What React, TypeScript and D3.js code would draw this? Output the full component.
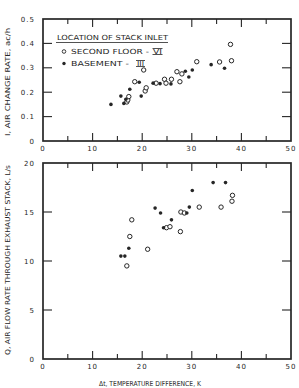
import React from 'react';
import * as d3 from 'd3';

// top panel: air change rate (ac/h) vs temperature difference (K)
const rateSecondFloor: [number, number][] = [
  [16.9, 0.16], [17.1, 0.168], [17.3, 0.182], [18.5, 0.243], [20.3, 0.291], [20.6, 0.205],
  [20.8, 0.218], [22.8, 0.237], [24.5, 0.253], [24.8, 0.237], [25.9, 0.253], [27.0, 0.284],
  [27.6, 0.243], [28.0, 0.275], [31.0, 0.325], [35.6, 0.324], [37.8, 0.396], [38.0, 0.329],
];
const rateBasement: [number, number][] = [
  [13.7, 0.15], [15.7, 0.184], [16.3, 0.154], [16.7, 0.171], [17.5, 0.212], [19.4, 0.241],
  [19.8, 0.184], [22.2, 0.237], [23.6, 0.235], [25.8, 0.234], [28.7, 0.286], [29.4, 0.262],
  [30.1, 0.291], [33.9, 0.313], [36.6, 0.298],
];

// bottom panel: air flow rate through exhaust stack (L/s)
const flowSecondFloor: [number, number][] = [
  [16.9, 9.5], [17.5, 12.5], [17.9, 14.2], [21.1, 11.2], [24.9, 13.4], [25.6, 13.5],
  [27.7, 13.0], [27.8, 15.0], [28.5, 14.9], [31.5, 15.5], [35.9, 15.5], [38.1, 16.1], [38.2, 16.7],
];
const flowBasement: [number, number][] = [
  [15.7, 10.5], [16.5, 10.5], [17.3, 11.3], [22.6, 15.4], [23.7, 14.9], [24.3, 13.4],
  [25.9, 14.2], [29.0, 14.9], [29.5, 15.5], [30.1, 17.2], [34.3, 18.0], [36.8, 18.0],
];

const xTicks = [0, 10, 20, 30, 40, 50];
const xMinor = [5, 10, 15, 20, 25, 30, 35, 40, 45];
const rateTicks = [0, 0.1, 0.2, 0.3, 0.4, 0.5];
const flowTicks = [0, 5, 10, 15, 20];

const ink = '#262626';
const font = 'DejaVu Sans, sans-serif';

const left = 43;
const right = 291;

const x = d3.scaleLinear().domain([0, 50]).range([left, right]);

interface PanelProps {
  y: d3.ScaleLinear<number, number>;
  yTicks: number[];
  fmt: (v: number) => string;
  open: [number, number][];
  filled: [number, number][];
}

const Panel: React.FC<PanelProps> = ({ y, yTicks, fmt, open, filled }) => {
  const [bottom, top] = y.range();
  const yMin = yTicks[0];
  const yMax = yTicks[yTicks.length - 1];
  return (
    <g>
      <rect x={left} y={top} width={right - left} height={bottom - top}
        fill="none" stroke={ink} strokeWidth={1.7} />
      {xMinor.map(v => {
        const len = v % 10 === 0 ? 8 : 5;
        return (
          <g key={v}>
            <line x1={x(v)} x2={x(v)} y1={bottom} y2={bottom - len} stroke={ink} strokeWidth={1.1} />
            <line x1={x(v)} x2={x(v)} y1={top} y2={top + len} stroke={ink} strokeWidth={1.1} />
          </g>
        );
      })}
      {yTicks.filter(v => v !== yMin && v !== yMax).map(v => (
        <g key={v}>
          <line x1={left} x2={left + 9} y1={y(v)} y2={y(v)} stroke={ink} strokeWidth={1.1} />
          <line x1={right} x2={right - 9} y1={y(v)} y2={y(v)} stroke={ink} strokeWidth={1.1} />
        </g>
      ))}
      {yTicks.map(v => (
        <text key={v} x={left - 8} y={y(v) + 2.5} textAnchor="end" fontSize={7}
          fontFamily={font} fill={ink} letterSpacing={1}>{fmt(v)}</text>
      ))}
      {xTicks.map(v => (
        <text key={v} x={x(v)} y={bottom + 10} textAnchor="middle" fontSize={7}
          fontFamily={font} fill={ink} letterSpacing={1}>{v}</text>
      ))}
      {open.map((d, i) => (
        <circle key={'o' + i} cx={x(d[0])} cy={y(d[1])} r={2.2} fill="white" stroke={ink} strokeWidth={1} />
      ))}
      {filled.map((d, i) => (
        <circle key={'f' + i} cx={x(d[0])} cy={y(d[1])} r={1.8} fill={ink} />
      ))}
    </g>
  );
};

export default function App() {
  const yRate = d3.scaleLinear().domain([0, 0.5]).range([141, 19]);
  const yFlow = d3.scaleLinear().domain([0, 20]).range([359, 163]);

  return (
    <svg width={299} height={388} style={{ position: 'absolute', left: 0, top: 0, background: 'white' }}>
      <Panel y={yRate} yTicks={rateTicks} fmt={v => (v === 0 ? '0' : v.toFixed(1))}
        open={rateSecondFloor} filled={rateBasement} />
      <Panel y={yFlow} yTicks={flowTicks} fmt={v => String(v)}
        open={flowSecondFloor} filled={flowBasement} />

      {/* legend */}
      <text x={57} y={39.5} fontSize={7} fontFamily={font} fill={ink} textLength={111}
        lengthAdjust="spacingAndGlyphs">LOCATION OF STACK INLET</text>
      <line x1={56} x2={168} y1={42.5} y2={42.5} stroke={ink} strokeWidth={0.8} />
      <circle cx={64} cy={51.5} r={1.8} fill="white" stroke={ink} strokeWidth={0.9} />
      <text x={71} y={54} fontSize={7} fontFamily={font} fill={ink} textLength={78}
        lengthAdjust="spacingAndGlyphs">SECOND FLOOR -</text>
      <text x={153} y={54} fontSize={7} fontFamily={font} fill={ink} textLength={9}
        lengthAdjust="spacingAndGlyphs">VI</text>
      <line x1={152.5} x2={162.5} y1={48.5} y2={48.5} stroke={ink} strokeWidth={0.8} />
      <line x1={152.5} x2={162.5} y1={54.5} y2={54.5} stroke={ink} strokeWidth={0.8} />
      <circle cx={64} cy={63.5} r={1.7} fill={ink} />
      <text x={71} y={66} fontSize={7} fontFamily={font} fill={ink} textLength={58}
        lengthAdjust="spacingAndGlyphs">BASEMENT -</text>
      <text x={137} y={66} fontSize={7} fontFamily={font} fill={ink} textLength={7}
        lengthAdjust="spacingAndGlyphs">III</text>
      <line x1={136} x2={145} y1={60.5} y2={60.5} stroke={ink} strokeWidth={0.8} />
      <line x1={136} x2={145} y1={66.5} y2={66.5} stroke={ink} strokeWidth={0.8} />

      {/* axis titles */}
      <text transform="translate(9.5,82) rotate(-90)" textAnchor="middle" fontSize={6.8}
        fontFamily={font} fill={ink} textLength={108} lengthAdjust="spacingAndGlyphs">I, AIR CHANGE RATE, ac/h</text>
      <text transform="translate(9.5,260) rotate(-90)" textAnchor="middle" fontSize={6.8}
        fontFamily={font} fill={ink} textLength={190} lengthAdjust="spacingAndGlyphs">Q, AIR FLOW RATE THROUGH EXHAUST STACK, L/s</text>
      <text x={150} y={386} textAnchor="middle" fontSize={6.8} fontFamily={font} fill={ink}
        textLength={102} lengthAdjust="spacingAndGlyphs">Δt, TEMPERATURE DIFFERENCE, K</text>
    </svg>
  );
}
